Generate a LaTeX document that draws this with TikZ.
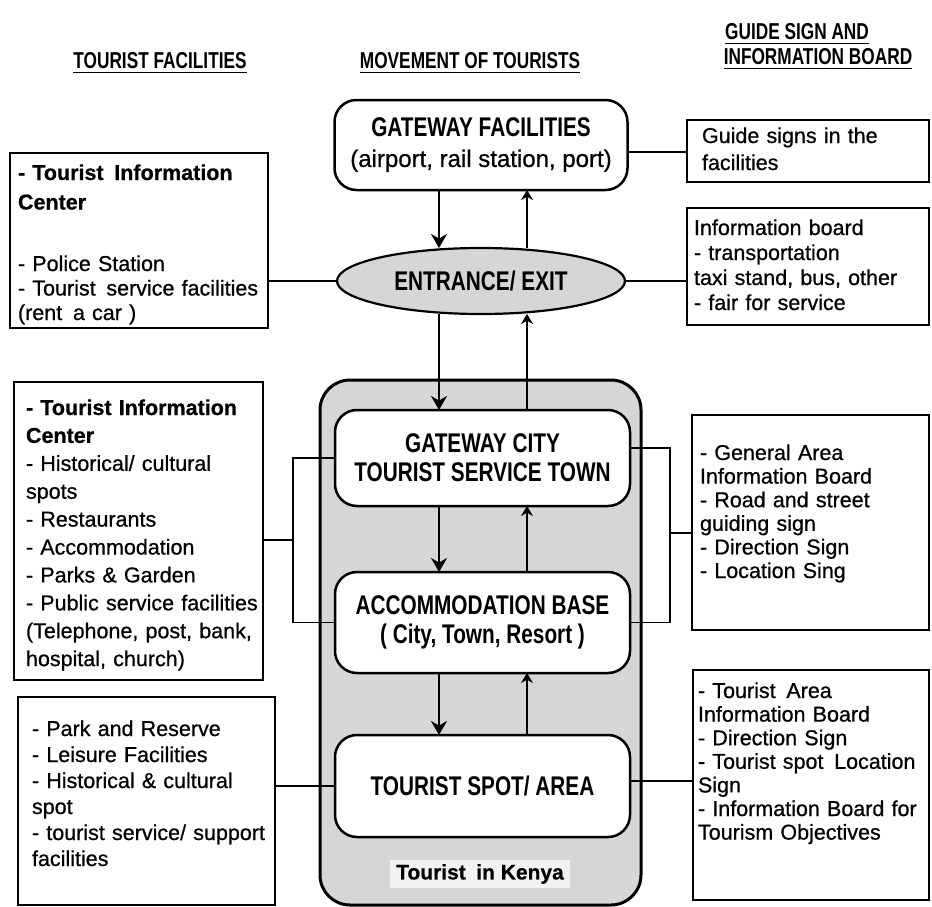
\documentclass[tikz,border=0pt]{standalone}
\usepackage{fontspec}
\setmainfont{Liberation Sans}[FakeBold=0.7]
\newfontfamily\condsans{Liberation Sans}[FakeStretch=0.77]
\newfontfamily\headsans{Liberation Sans}[FakeStretch=0.75]
\usetikzlibrary{arrows.meta,shapes.geometric}
\definecolor{stipple}{gray}{0.84}
\definecolor{patch}{gray}{0.95}
% heading text with a heavy rule under it
\newcommand\headrule[1]{\vtop{\hbox{#1}\kern2.5pt\hrule height 1.6pt}}

\begin{document}
\begin{tikzpicture}[x=1pt,y=-1pt,
  every node/.style={inner sep=0pt,outer sep=0pt},
  listbox/.style={draw,line width=2.2pt},
  listtext/.style={anchor=base west,align=left,text width=#1},
  roundbox/.style={draw,line width=2.5pt,fill=white,rounded corners=22pt,align=center,
    font=\condsans\bfseries\fontsize{27}{29}\selectfont},
  header/.style={anchor=base,font=\headsans\bfseries\fontsize{23}{26}\selectfont},
  link/.style={line width=1.8pt},
  downflow/.style={line width=2.4pt,-{Stealth[length=14pt,width=16pt]}},
  upflow/.style={line width=2.4pt,-{Stealth[length=10pt,width=12pt]}},
]
\useasboundingbox (0,0) rectangle (932,907);

% column headings
\node[header] (h1) at (160,69) {\headrule{TOURIST FACILITIES}};
\node[header] (h2) at (470,69) {\headrule{MOVEMENT OF TOURISTS}};
\node[header] (h3) at (797,40) {\headrule{GUIDE SIGN AND}};
\node[header] (h4) at (818,65) {\headrule{INFORMATION BOARD}};

% shaded zone of the destination
\node[draw,line width=3pt,fill=stipple,rounded corners=30pt,
      minimum width=321pt,minimum height=525pt] (zone) at (480.5,642.5) {};
\node[fill=patch,inner xsep=6pt,inner ysep=4pt,
      font=\bfseries\fontsize{21}{24}\selectfont] (kenya) at (480,874) {Tourist\enspace in Kenya};

% movement chain
\node[roundbox,minimum width=293pt,minimum height=90pt] (gw) at (481,145)
  {GATEWAY FACILITIES\\[1pt]{\normalfont\fontsize{24}{28}\selectfont(airport, rail station, port)}};
\node[ellipse,draw,line width=2.2pt,fill=stipple,minimum width=288pt,minimum height=66pt,
      font=\condsans\bfseries\fontsize{27}{29}\selectfont] (ent) at (481,281) {ENTRANCE/ EXIT};
\node[roundbox,minimum width=295pt,minimum height=96pt] (city) at (482.5,458)
  {GATEWAY CITY\\TOURIST SERVICE TOWN};
\node[roundbox,minimum width=295pt,minimum height=101pt] (accom) at (482.5,622.5)
  {ACCOMMODATION BASE\\( City, Town, Resort )};
\node[roundbox,minimum width=295pt,minimum height=102pt] (spot) at (482.5,786)
  {TOURIST SPOT/ AREA};

% tourist facilities
\node[listbox,minimum width=258pt,minimum height=175pt] (tf1) at (139,240.5) {};
\node[listtext=250pt,font=\fontsize{21.5}{24.5}\selectfont] (tf1t) at (18,180)
  {\textbf{- Tourist\enspace Information}\\[5pt]\textbf{Center}\\[37pt]- Police Station\\
   - Tourist\enspace service facilities\\(rent\enspace a car )};
\node[listbox,minimum width=249pt,minimum height=298pt] (tf2) at (138.5,531) {};
\node[listtext=240pt,font=\fontsize{21.5}{27.9}\selectfont] (tf2t) at (26,415)
  {\textbf{- Tourist Information}\\\textbf{Center}\\- Historical/ cultural\\spots\\
   - Restaurants\\- Accommodation\\- Parks \& Garden\\- Public service facilities\\
   (Telephone, post, bank,\\hospital, church)};
\node[listbox,minimum width=257pt,minimum height=208pt] (tf3) at (146.5,801) {};
\node[listtext=245pt,font=\fontsize{21.5}{26}\selectfont] (tf3t) at (32,736)
  {- Park and Reserve\\- Leisure Facilities\\- Historical \& cultural\\spot\\
   - tourist service/ support\\facilities};

% guide signs and information boards
\node[listbox,minimum width=242pt,minimum height=62pt] (g1) at (808,151) {};
\node[listtext=225pt,font=\fontsize{21.5}{27}\selectfont] (g1t) at (702,143)
  {Guide signs in the\\facilities};
\node[listbox,minimum width=242pt,minimum height=117pt] (g2) at (808,266.5) {};
\node[listtext=232pt,font=\fontsize{21.5}{25}\selectfont] (g2t) at (694,235)
  {Information board\\- transportation\\taxi stand, bus, other\\- fair for service};
\node[listbox,minimum width=237pt,minimum height=215pt] (g3) at (810.5,522.5) {};
\node[listtext=225pt,font=\fontsize{21.5}{23.6}\selectfont] (g3t) at (700,460)
  {- General Area\\Information Board\\- Road and street\\guiding sign\\- Direction Sign\\- Location Sing};
\node[listbox,minimum width=236pt,minimum height=230pt] (g4) at (811,785) {};
\node[listtext=230pt,font=\fontsize{21.5}{23.6}\selectfont] (g4t) at (698,698)
  {- Tourist\enspace Area\\Information Board\\- Direction Sign\\- Tourist spot\enspace Location\\
   Sign\\- Information Board for\\Tourism Objectives};

% flow arrows
\coordinate (dn) at (439,0);
\coordinate (up) at (527,0);
\draw[downflow] (gw.south -| dn) -- (ent.north -| dn);
\draw[upflow] (ent.north -| up) -- (gw.south -| up);
\draw[downflow] (ent.south -| dn) -- (city.north -| dn);
\draw[upflow] (city.north -| up) -- (ent.south -| up);
\draw[downflow] (city.south -| dn) -- (accom.north -| dn);
\draw[upflow] (accom.north -| up) -- (city.south -| up);
\draw[downflow] (accom.south -| dn) -- (spot.north -| dn);
\draw[upflow] (spot.north -| up) -- (accom.south -| up);

% links to the side boxes
\coordinate (lb) at (293,540);
\coordinate (rb) at (670,533);
\draw[link] ([yshift=-7pt]gw.east) -- ([yshift=-7pt]gw.east -| g1.west);
\draw[link] (ent.west) -- (ent.west -| tf1.east);
\draw[link] (ent.east) -- (ent.east -| g2.west);
\draw[link] (city.west) -| (lb) |- (accom.west);
\draw[link] (tf2.east |- lb) -- (lb);
\draw[link] ([yshift=10pt]city.east) -| (rb) |- (accom.east);
\draw[link] (rb) -- (rb -| g3.west);
\draw[link] (spot.west) -- (spot.west -| tf3.east);
\draw[link] ([yshift=5pt]spot.east) -- ([yshift=5pt]spot.east -| g4.west);
\end{tikzpicture}
\end{document}
